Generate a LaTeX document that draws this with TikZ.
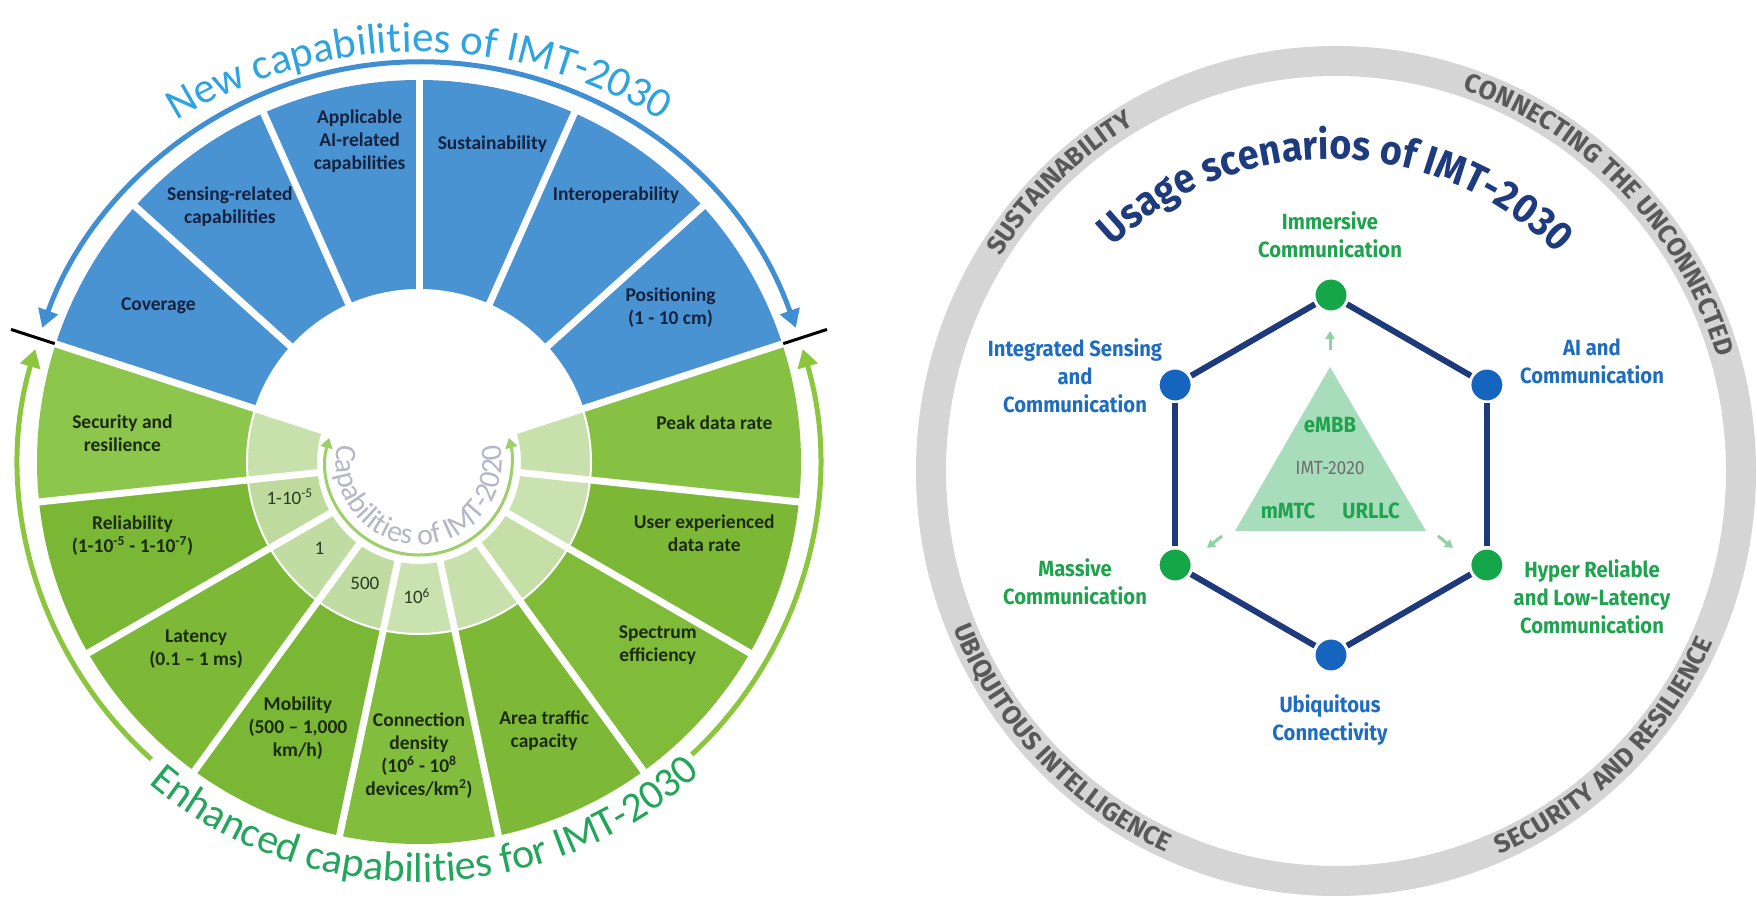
\documentclass[tikz,border=0pt]{standalone}
\usepackage{fontspec}
\setmainfont{Carlito}
\newfontfamily\fira[FakeStretch=0.92]{Fira Sans}
\newfontfamily\firaw{Fira Sans}
\usetikzlibrary{arrows.meta,decorations.text}
\definecolor{segblue}{HTML}{4A93D3}
\definecolor{navytxt}{HTML}{14223F}
\definecolor{greentxt}{HTML}{1B2A10}
\definecolor{numtxt}{HTML}{2B3A22}
\definecolor{gA}{HTML}{8DC64C}\definecolor{gB}{HTML}{7AB734}\definecolor{gC}{HTML}{7DB936}
\definecolor{gD}{HTML}{7AB734}\definecolor{gE}{HTML}{82BD3D}\definecolor{gF}{HTML}{7DB936}
\definecolor{gG}{HTML}{80BB39}\definecolor{gH}{HTML}{7CB836}\definecolor{gI}{HTML}{86C143}
\definecolor{lA}{HTML}{C8E0AB}\definecolor{lB}{HTML}{BEDA9D}\definecolor{lC}{HTML}{C1DCA2}
\definecolor{lD}{HTML}{C1DCA2}\definecolor{lE}{HTML}{CAE2AF}\definecolor{lF}{HTML}{C8E0AB}
\definecolor{lG}{HTML}{C5DFA7}\definecolor{lH}{HTML}{CAE2AF}\definecolor{lI}{HTML}{C8E0AB}
\definecolor{bluetitle}{HTML}{2DA3DF}
\definecolor{greentitle}{HTML}{24A55C}
\definecolor{bluearc}{HTML}{3F8FD2}
\definecolor{greenarc}{HTML}{8CC63F}
\definecolor{innerarc}{HTML}{9DCF6A}
\definecolor{innertext}{HTML}{B6B6C6}
\definecolor{ringgray}{HTML}{D5D5D5}
\definecolor{ringtxt}{HTML}{595959}
\definecolor{navy}{HTML}{1E3C7D}
\definecolor{hexnavy}{HTML}{1F3A7A}
\definecolor{ngreen}{HTML}{16A64A}
\definecolor{nblue}{HTML}{1565BF}
\definecolor{tgreen}{HTML}{1FA34F}
\definecolor{tblue}{HTML}{1F6DBE}
\definecolor{trifill}{HTML}{A8DDBB}
\definecolor{arrmint}{HTML}{8FD3A5}
\definecolor{imtgray}{HTML}{6E6E6E}
\def\ringfont{\firaw\bfseries\fontsize{26}{26}\selectfont\color{ringtxt}}
\tikzset{
 seglbl/.style={font=\bfseries\fontsize{19.5}{23}\selectfont, align=center, inner sep=0pt},
 bluelbl/.style={seglbl, text=navytxt},
 greenlbl/.style={seglbl, text=greentxt},
 numlbl/.style={font=\fontsize{19}{22}\selectfont, text=numtxt, inner sep=0pt},
 hexnode/.style={circle, draw=white, line width=3pt, minimum size=34pt, inner sep=0pt},
 hexg/.style={hexnode, fill=ngreen},
 hexb/.style={hexnode, fill=nblue},
 hexedge/.style={draw=hexnavy, line width=6pt},
 scen/.style={font=\fira\bfseries\fontsize{22}{28}\selectfont, align=center, inner sep=0pt},
 scg/.style={scen, text=tgreen},
 scb/.style={scen, text=tblue},
 triword/.style={font=\fira\bfseries\fontsize{22}{24}\selectfont, text=tgreen, inner sep=0pt},
 smallarrow/.style={draw=arrmint, line width=3pt, -{Triangle[length=8pt,width=9pt]}},
}
\begin{document}
\begin{tikzpicture}[x=1pt,y=1pt]
\useasboundingbox (0,0) rectangle (1757,900);
\fill[white] (0,0) rectangle (1757,900);
%================ LEFT WHEEL ================
\coordinate (W) at (419,438);
\coordinate (WT) at (419,388);
\foreach \a in {18,42,66,90,114,138}{
  \pgfmathsetmacro\b{\a+24}
  \fill[segblue] ([shift={(W)}]\a:172) arc[start angle=\a,end angle=\b,radius=172]
    -- ([shift={(W)}]\b:382) arc[start angle=\b,end angle=\a,radius=382] -- cycle;
}
\foreach \a/\gc/\lc in {162/gA/lA,186/gB/lB,210/gC/lC,234/gD/lD,258/gE/lE,282/gF/lF,306/gG/lG,330/gH/lH,354/gI/lI}{
  \pgfmathsetmacro\b{\a+24}
  \fill[\gc] ([shift={(W)}]\a:172) arc[start angle=\a,end angle=\b,radius=172]
    -- ([shift={(W)}]\b:382) arc[start angle=\b,end angle=\a,radius=382] -- cycle;
  \fill[\lc] ([shift={(W)}]\a:102) arc[start angle=\a,end angle=\b,radius=102]
    -- ([shift={(W)}]\b:172) arc[start angle=\b,end angle=\a,radius=172] -- cycle;
}
\draw[white,line width=2pt] (W) circle[radius=172];
\foreach \a in {18,42,...,354}{
  \draw[white,line width=7pt] ([shift={(W)}]\a:98) -- ([shift={(W)}]\a:388);
}
% labels blue
\node[bluelbl] (cov) at ([shift={(W)}]149:304) {Coverage};
\node[bluelbl] (sens) at ([shift={(W)}]126.5:318) {Sensing-related\\capabilities};
\node[bluelbl] (appl) at ([shift={(W)}]100.5:326) {Applicable\\AI-related\\capabilities};
\node[bluelbl] (sust) at ([shift={(W)}]77:326) {Sustainability};
\node[bluelbl] (inter) at ([shift={(W)}]53.6:332) {Interoperability};
\node[bluelbl] (pos) at ([shift={(W)}]31.5:295) {Positioning\\(1 - 10 cm)};
% labels green
\node[greenlbl] (sec) at ([shift={(W)}]174.4:298) {Security and\\resilience};
\node[greenlbl] (rel) at ([shift={(W)}]194.5:296) {Reliability\\(1-10\textsuperscript{-5} - 1-10\textsuperscript{-7})};
\node[greenlbl] (lat) at ([shift={(W)}]220:291) {Latency\\(0.1 – 1 ms)};
\node[greenlbl] (mob) at ([shift={(W)}]245.5:292) {Mobility\\(500 – 1,000\\km/h)};
\node[greenlbl] (con) at ([shift={(W)}]270:294) {Connection\\density\\(10\textsuperscript{6} - 10\textsuperscript{8}\\devices/km\textsuperscript{2})};
\node[greenlbl] (area) at ([shift={(W)}]295:296) {Area traffic\\capacity};
\node[greenlbl] (spec) at ([shift={(W)}]322.5:301) {Spectrum\\efficiency};
\node[greenlbl] (user) at ([shift={(W)}]346:294) {User experienced\\data rate};
\node[greenlbl] (peak) at ([shift={(W)}]7.6:298) {Peak data rate};
% inner numbers
\node[numlbl] (n1) at ([shift={(W)}]195:134) {1-10\textsuperscript{-5}};
\node[numlbl] (n2) at ([shift={(W)}]221:132) {1};
\node[numlbl] (n3) at ([shift={(W)}]246:133) {500};
\node[numlbl] (n4) at ([shift={(W)}]269:134) {10\textsuperscript{6}};
% ticks
\draw[black,line width=3pt] ([shift={(W)}]162:383) -- ([shift={(W)}]162:429);
\draw[black,line width=3pt] ([shift={(W)}]18:383) -- ([shift={(W)}]18:429);
% arcs
\draw[draw=bluearc,line width=5pt,{Triangle[length=18pt,width=20pt]}-{Triangle[length=18pt,width=20pt]}]
  ([shift={(W)}]19.6:400) arc[start angle=19.6,end angle=160.4,radius=400];
\draw[draw=greenarc,line width=5pt,{Triangle[length=18pt,width=20pt]}-]
  ([shift={(W)}]163.6:400) arc[start angle=163.6,end angle=228,radius=400];
\draw[draw=greenarc,line width=5pt,-{Triangle[length=18pt,width=20pt]}]
  ([shift={(W)}]313:400) arc[start angle=313,end angle=376.4,radius=400];
\draw[draw=innerarc,line width=3pt,{Triangle[length=10pt,width=12pt]}-{Triangle[length=10pt,width=12pt]}]
  ([shift={(W)}]165:93) arc[start angle=165,end angle=375,radius=93];
% curved titles
\path[decorate,decoration={text along path,text align=center,
  text={|\fontsize{43}{43}\selectfont\color{bluetitle}|New capabilities of IMT-2030}}]
  ([shift={(WT)}]150:460) arc[start angle=150,end angle=30,radius=460];
\path[decorate,decoration={text along path,text align=center,
  text={|\fontsize{42}{42}\selectfont\color{greentitle}|Enhanced capabilities for IMT-2030}}]
  ([shift={(W)}]190:420) arc[start angle=190,end angle=352,radius=420];
\path[decorate,decoration={text along path,text align=center,
  text={|\fontsize{30}{30}\selectfont\color{innertext}|Capabilities of IMT-2020}}]
  ([shift={(W)}]150:83) arc[start angle=150,end angle=390,radius=83];
%================ RIGHT: USAGE SCENARIOS ================
\coordinate (H) at (1331,425);
\coordinate (R) at (1336,429);
\draw[ringgray,line width=30pt] (R) ellipse[x radius=405,y radius=410];
\path[decorate,decoration={text along path,text align=center,text={|\ringfont|SUSTAINABILITY}}]
  ([shift={(R)}]175:397 and 402) arc[start angle=175,end angle=93,x radius=397,y radius=402];
\path[decorate,decoration={text along path,text align=center,text={|\ringfont|CONNECTING THE UNCONNECTED}}]
  ([shift={(R)}]95:397 and 402) arc[start angle=95,end angle=-7,x radius=397,y radius=402];
\path[decorate,decoration={text along path,text align=center,text={|\ringfont|SECURITY AND RESILIENCE}}]
  ([shift={(R)}]-90:413 and 418) arc[start angle=-90,end angle=-1,x radius=413,y radius=418];
\path[decorate,decoration={text along path,text align=center,text={|\ringfont|UBIQUITOUS INTELLIGENCE}}]
  ([shift={(R)}]180:413 and 418) arc[start angle=180,end angle=268,x radius=413,y radius=418];
\path[decorate,decoration={text along path,text align=center,
  text={|\fira\bfseries\fontsize{41}{41}\selectfont\color{navy}|Usage scenarios of IMT-2030}}]
  ([shift={(H)}]175:316) arc[start angle=175,end angle=3,radius=316];
% triangle
\coordinate (tA) at (1330,533);
\coordinate (tB) at (1235,369);
\coordinate (tC) at (1426,369);
\fill[trifill] (tA) -- (tB) -- (tC) -- cycle;
\node[triword] (embb) at (1330,475) {eMBB};
\node[font=\fira\fontsize{19}{21}\selectfont, text=imtgray, inner sep=0pt] (imt) at (1330,432) {IMT-2020};
\node[triword] (mmtc) at (1288,389) {mMTC};
\node[triword] (urllc) at (1371,389) {URLLC};
% small arrows
\coordinate (a1s) at (1330,550); \coordinate (a1e) at (1330,569);
\coordinate (a2s) at (1222,364); \coordinate (a2e) at (1207,352);
\coordinate (a3s) at (1438,364); \coordinate (a3e) at (1453,352);
\draw[smallarrow] (a1s) -- (a1e);
\draw[smallarrow] (a2s) -- (a2e);
\draw[smallarrow] (a3s) -- (a3e);
% hexagon
\node[hexg] (imm) at ([shift={(H)}]90:180) {};
\node[hexb] (ai) at ([shift={(H)}]30:180) {};
\node[hexg] (hrl) at ([shift={(H)}]-30:180) {};
\node[hexb] (ubi) at ([shift={(H)}]-90:180) {};
\node[hexg] (mass) at ([shift={(H)}]-150:180) {};
\node[hexb] (isac) at ([shift={(H)}]150:180) {};
\draw[hexedge] (imm) -- (ai);
\draw[hexedge] (ai) -- (hrl);
\draw[hexedge] (hrl) -- (ubi);
\draw[hexedge] (ubi) -- (mass);
\draw[hexedge] (mass) -- (isac);
\draw[hexedge] (isac) -- (imm);
% labels
\node[scg] (limm) at (1330,665) {Immersive\\Communication};
\node[scb] (lisac) at (1075,524) {Integrated Sensing\\and\\Communication};
\node[scb] (lai) at (1592,539) {AI and\\Communication};
\node[scg] (lmass) at (1075,318) {Massive\\Communication};
\node[scg] (lhrl) at (1592,303) {Hyper Reliable\\and Low-Latency\\Communication};
\node[scb] (lubi) at (1330,180) {Ubiquitous\\Connectivity};
\end{tikzpicture}
\end{document}
